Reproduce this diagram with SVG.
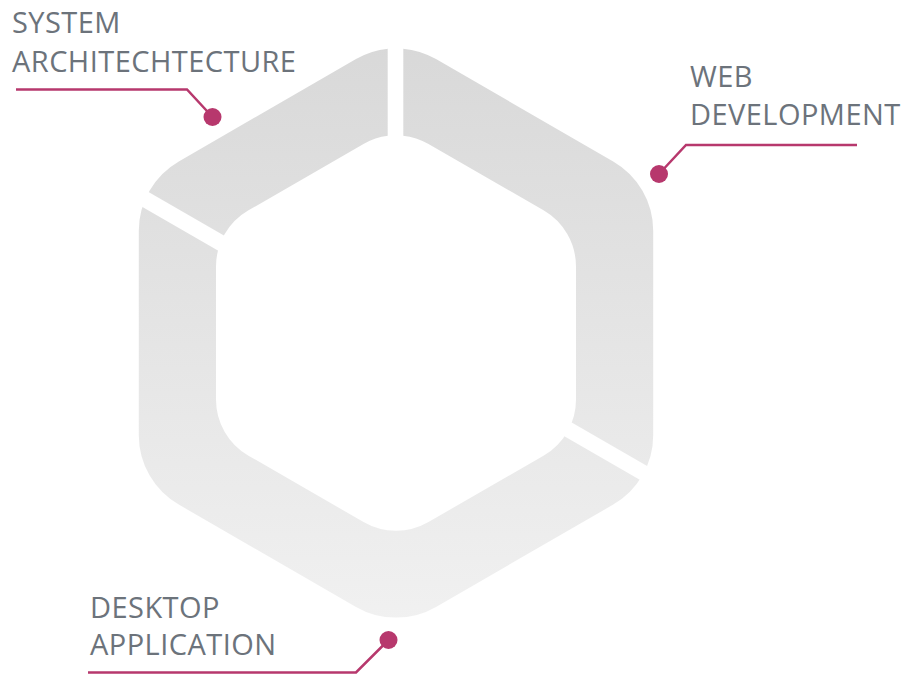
<svg xmlns="http://www.w3.org/2000/svg" xmlns:xlink="http://www.w3.org/1999/xlink" width="902" height="675" viewBox="0 0 902 675">
  <style>
    .lbl { font-family: "Open Sans", "Liberation Sans", sans-serif; font-size: 29px; letter-spacing: 0.45px; fill: #6c737b; }
    .lead { fill: none; stroke: #b7386d; stroke-width: 2.5; stroke-linejoin: miter; }
    .dot { fill: #b7386d; }
    .seg { fill: url(#ringGrad); fill-rule: evenodd; }
  </style>
  <defs>
    <linearGradient id="ringGrad" gradientUnits="userSpaceOnUse" x1="0" y1="36" x2="0" y2="630">
      <stop offset="0" stop-color="#d8d8d8"/>
      <stop offset="1" stop-color="#f1f1f1"/>
    </linearGradient>
    <path id="ring" d="M356,59.1 A80,80 0 0 1 436,59.1 L613.2,161.4 A80,80 0 0 1 653.2,230.7 L653.2,435.3 A80,80 0 0 1 613.2,504.6 L436,606.9 A80,80 0 0 1 356,606.9 L178.8,504.6 A80,80 0 0 1 138.8,435.3 L138.8,230.7 A80,80 0 0 1 178.8,161.4 Z M363.5,144 A65,65 0 0 1 428.5,144 L543.5,210.3 A65,65 0 0 1 576,266.6 L576,399.4 A65,65 0 0 1 543.5,455.7 L428.5,522 A65,65 0 0 1 363.5,522 L248.5,455.7 A65,65 0 0 1 216,399.4 L216,266.6 A65,65 0 0 1 248.5,210.3 Z"/>
    <clipPath id="clipTL">
      <polygon points="100,0 387.7,0 387.7,330.1 100,164.1"/>
    </clipPath>
    <clipPath id="clipR">
      <polygon points="403.3,0 700,0 700,496.5 403.3,325.3"/>
    </clipPath>
    <clipPath id="clipBL">
      <polygon points="100,182.5 396,353.3 396,339.1 700,514.5 700,700 100,700"/>
    </clipPath>
  </defs>

  <g id="segment-system-architecture">
    <use xlink:href="#ring" class="seg" clip-path="url(#clipTL)"/>
  </g>
  <g id="segment-web-development">
    <use xlink:href="#ring" class="seg" clip-path="url(#clipR)"/>
  </g>
  <g id="segment-desktop-application">
    <use xlink:href="#ring" class="seg" clip-path="url(#clipBL)"/>
  </g>

  <g id="label-system-architecture">
    <text class="lbl" x="12" y="33">SYSTEM</text>
    <text class="lbl" x="12" y="72">ARCHITECHTECTURE</text>
  </g>
  <g id="label-web-development">
    <text class="lbl" x="690" y="87">WEB</text>
    <text class="lbl" x="690" y="125">DEVELOPMENT</text>
  </g>
  <g id="label-desktop-application">
    <text class="lbl" x="90" y="618">DESKTOP</text>
    <text class="lbl" x="90" y="655">APPLICATION</text>
  </g>

  <g id="connectors">
    <polyline class="lead" points="16,89.5 187,89.5 212.5,117"/>
    <circle class="dot" cx="212.5" cy="117" r="9"/>
    <polyline class="lead" points="857,145 686,145 659,174"/>
    <circle class="dot" cx="659" cy="174" r="9"/>
    <polyline class="lead" points="88,672.5 356,672.5 388.5,640"/>
    <circle class="dot" cx="388.5" cy="640" r="9"/>
  </g>
</svg>
